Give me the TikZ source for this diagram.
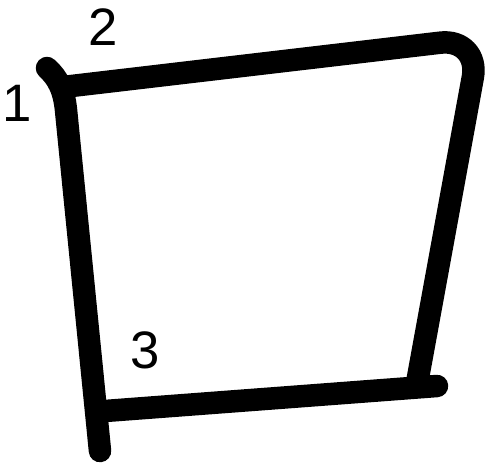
\documentclass[tikz,border=0pt]{standalone}
\usepackage{fontspec}
\setmainfont{Liberation Sans}
\begin{document}
\begin{tikzpicture}[x=0.02cm,y=-0.02cm,
    penStroke/.style={draw=black,line width=0.45cm,line cap=round,line join=round},
    cornerLabel/.style={font=\fontsize{30}{31}\selectfont,inner sep=0pt,text=black}
]
\useasboundingbox (0,0) rectangle (487,468);
% left side, starting with the little hook
\draw[penStroke] (47,68) .. controls (58,78) and (64,90) .. (66,110) -- (100,451);
% top side, round corner, right side
\draw[penStroke,rounded corners=0.8cm] (63,87) -- (480,38) -- (417,383);
% bottom side
\draw[penStroke] (105,411) -- (437,386);
\node[cornerLabel] (one) at (17,103) {1};
\node[cornerLabel] (two) at (103,27) {2};
\node[cornerLabel] (three) at (145,350) {3};
\end{tikzpicture}
\end{document}
